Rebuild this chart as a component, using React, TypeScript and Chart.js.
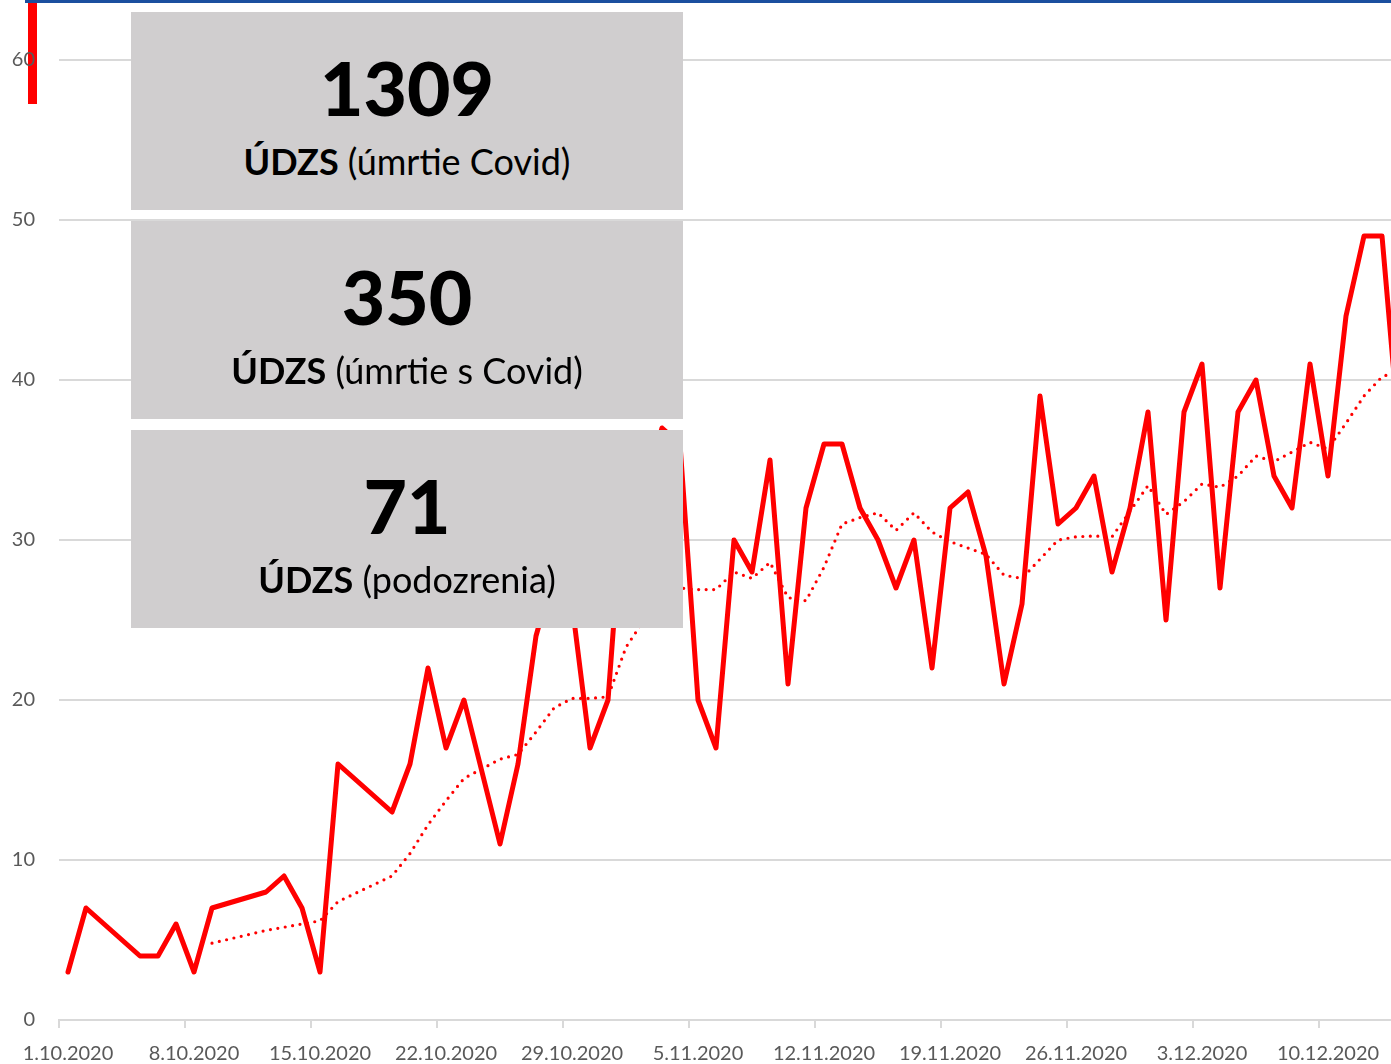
import React, { useEffect, useRef } from "react";
import { Chart, registerables } from "chart.js";

Chart.register(...registerables);

const CATEGORIES = [
  "1.10.2020","2.10.2020","3.10.2020","4.10.2020","5.10.2020","6.10.2020","7.10.2020",
  "8.10.2020","9.10.2020","10.10.2020","11.10.2020","12.10.2020","13.10.2020","14.10.2020",
  "15.10.2020","16.10.2020","17.10.2020","18.10.2020","19.10.2020","20.10.2020","21.10.2020",
  "22.10.2020","23.10.2020","24.10.2020","25.10.2020","26.10.2020","27.10.2020","28.10.2020",
  "29.10.2020","30.10.2020","31.10.2020","1.11.2020","2.11.2020","3.11.2020","4.11.2020",
  "5.11.2020","6.11.2020","7.11.2020","8.11.2020","9.11.2020","10.11.2020","11.11.2020",
  "12.11.2020","13.11.2020","14.11.2020","15.11.2020","16.11.2020","17.11.2020","18.11.2020",
  "19.11.2020","20.11.2020","21.11.2020","22.11.2020","23.11.2020","24.11.2020","25.11.2020",
  "26.11.2020","27.11.2020","28.11.2020","29.11.2020","30.11.2020","1.12.2020","2.12.2020",
  "3.12.2020","4.12.2020","5.12.2020","6.12.2020","7.12.2020","8.12.2020","9.12.2020",
  "10.12.2020","11.12.2020","12.12.2020","13.12.2020","14.12.2020",
];

// daily deaths (null = no report that day, line spans the gap)
const DAILY = [
  3, 7, null, null, 4, 4, 6,
  3, 7, null, null, 8, 9, 7,
  3, 16, null, null, 13, 16, 22,
  17, 20, null, 11, 16, 24, 28,
  26, 17, 20, 35, 33, 37, 36,
  20, 17, 30, 28, 35, 21, 32,
  36, 36, 32, 30, 27, 30, 22,
  32, 33, 29, 21, 26, 39, 31,
  32, 34, 28, 32, 38, 25, 38,
  41, 27, 38, 40, 34, 32, 41,
  34, 44, 49, 49, 36,
];

// moving average trend (dotted)
const TREND = [
  null, null, null, null, null, null, null,
  null, 4.8, null, null, 5.6, 5.8, 6.0,
  6.2, 7.4, null, null, 9.0, 10.4, 12.2,
  13.7, 15.1, null, 16.3, 16.6, 18.0, 19.5,
  20.1, 20.1, 20.2, 23.3, 25.0, 26.2, 27.0,
  26.9, 26.9, 28.0, 27.6, 28.6, 26.4, 26.2,
  28.3, 31.0, 31.4, 31.7, 30.6, 31.7, 30.5,
  29.9, 29.5, 29.1, 27.8, 27.6, 28.8, 30.0,
  30.2, 30.25, 30.2, 31.8, 33.4, 31.6, 32.4,
  33.5, 33.3, 34.0, 35.25, 34.9, 35.5, 36.1,
  35.7, 37.3, 39.0, 40.2, 40.6,
];

const Y_TICKS = [0, 10, 20, 30, 40, 50, 60];
const LABEL_EVERY = 7;

const BOXES = [
  { value: "1309", label: "(úmrtie Covid)" },
  { value: "350", label: "(úmrtie s Covid)" },
  { value: "71", label: "(podozrenia)" },
];

const FONT = "Lato, 'Noto Sans', sans-serif";

export default function App() {
  const canvasRef = useRef<HTMLCanvasElement | null>(null);

  useEffect(() => {
    if (!canvasRef.current) return;
    const chart = new Chart(canvasRef.current, {
      type: "line",
      data: {
        labels: CATEGORIES,
        datasets: [
          {
            data: DAILY,
            borderColor: "#ff0000",
            borderWidth: 5,
            pointRadius: 0,
            spanGaps: true,
            tension: 0,
            borderJoinStyle: "round",
            borderCapStyle: "round",
          },
          {
            data: TREND,
            borderColor: "#ff0000",
            borderWidth: 3.2,
            borderDash: [0, 7.5],
            borderCapStyle: "round",
            pointRadius: 0,
            spanGaps: true,
            tension: 0,
          },
        ],
      },
      options: {
        animation: false,
        responsive: false,
        layout: { padding: { top: 60, left: 0, right: 0, bottom: 0 } },
        plugins: { legend: { display: false }, tooltip: { enabled: false } },
        font: { family: FONT },
        scales: {
          x: {
            offset: true,
            afterFit: (s: any) => {
              s.height = 70;
            },
            grid: {
              offset: true,
              drawOnChartArea: false,
              drawTicks: true,
              tickLength: 8,
              lineWidth: 2,
              color: (ctx: any) => (ctx.index % LABEL_EVERY === 0 ? "#d9d9d9" : "rgba(0,0,0,0)"),
            },
            border: { display: true, color: "#d9d9d9", width: 2 },
            ticks: {
              autoSkip: false,
              maxRotation: 0,
              minRotation: 0,
              padding: 14,
              color: "#595959",
              font: { family: FONT, size: 20 },
              callback: (_v: any, i: number) => (i % LABEL_EVERY === 0 ? CATEGORIES[i] : ""),
            },
          },
          y: {
            min: Y_TICKS[0],
            max: Y_TICKS[Y_TICKS.length - 1],
            afterFit: (s: any) => {
              s.width = 59;
            },
            afterBuildTicks: (s: any) => {
              s.ticks = Y_TICKS.map((v) => ({ value: v }));
            },
            grid: { color: "#d9d9d9", lineWidth: 2, drawTicks: false },
            border: { display: false },
            ticks: {
              padding: 24,
              color: "#595959",
              font: { family: FONT, size: 20 },
            },
          },
        },
      },
    });
    return () => chart.destroy();
  }, []);

  const boxTops = [12, 221, 430];

  return (
    <div
      style={{
        position: "fixed",
        left: 0,
        top: 0,
        width: 1391,
        height: 1064,
        overflow: "hidden",
        background: "#ffffff",
        fontFamily: FONT,
      }}
    >
      <div style={{ position: "absolute", left: 28, top: 3, width: 9, height: 101, background: "#ff0000" }} />
      <div style={{ position: "absolute", left: 0, top: 0, width: 1414, height: 1090 }}>
        <canvas ref={canvasRef} width={1414} height={1090} style={{ display: "block" }} />
      </div>
      {BOXES.map((b, i) => (
        <div
          key={b.value}
          style={{
            position: "absolute",
            left: 131,
            top: boxTops[i],
            width: 552,
            height: 198,
            background: "#d0cecf",
            color: "#000",
          }}
        >
          <div
            style={{
              position: "absolute",
              left: 0,
              right: 0,
              top: 37.5,
              textAlign: "center",
              fontSize: 75,
              lineHeight: "75px",
              fontWeight: 900,
            }}
          >
            {b.value}
          </div>
          <div
            style={{
              position: "absolute",
              left: 0,
              right: 0,
              top: 131,
              textAlign: "center",
              fontSize: 36,
              lineHeight: "36px",
              whiteSpace: "nowrap",
            }}
          >
            <span style={{ fontWeight: 700 }}>ÚDZS</span> {b.label}
          </div>
        </div>
      ))}
      <div style={{ position: "absolute", left: 25, top: 0, width: 1366, height: 3, background: "#1b4f9f" }} />
    </div>
  );
}
